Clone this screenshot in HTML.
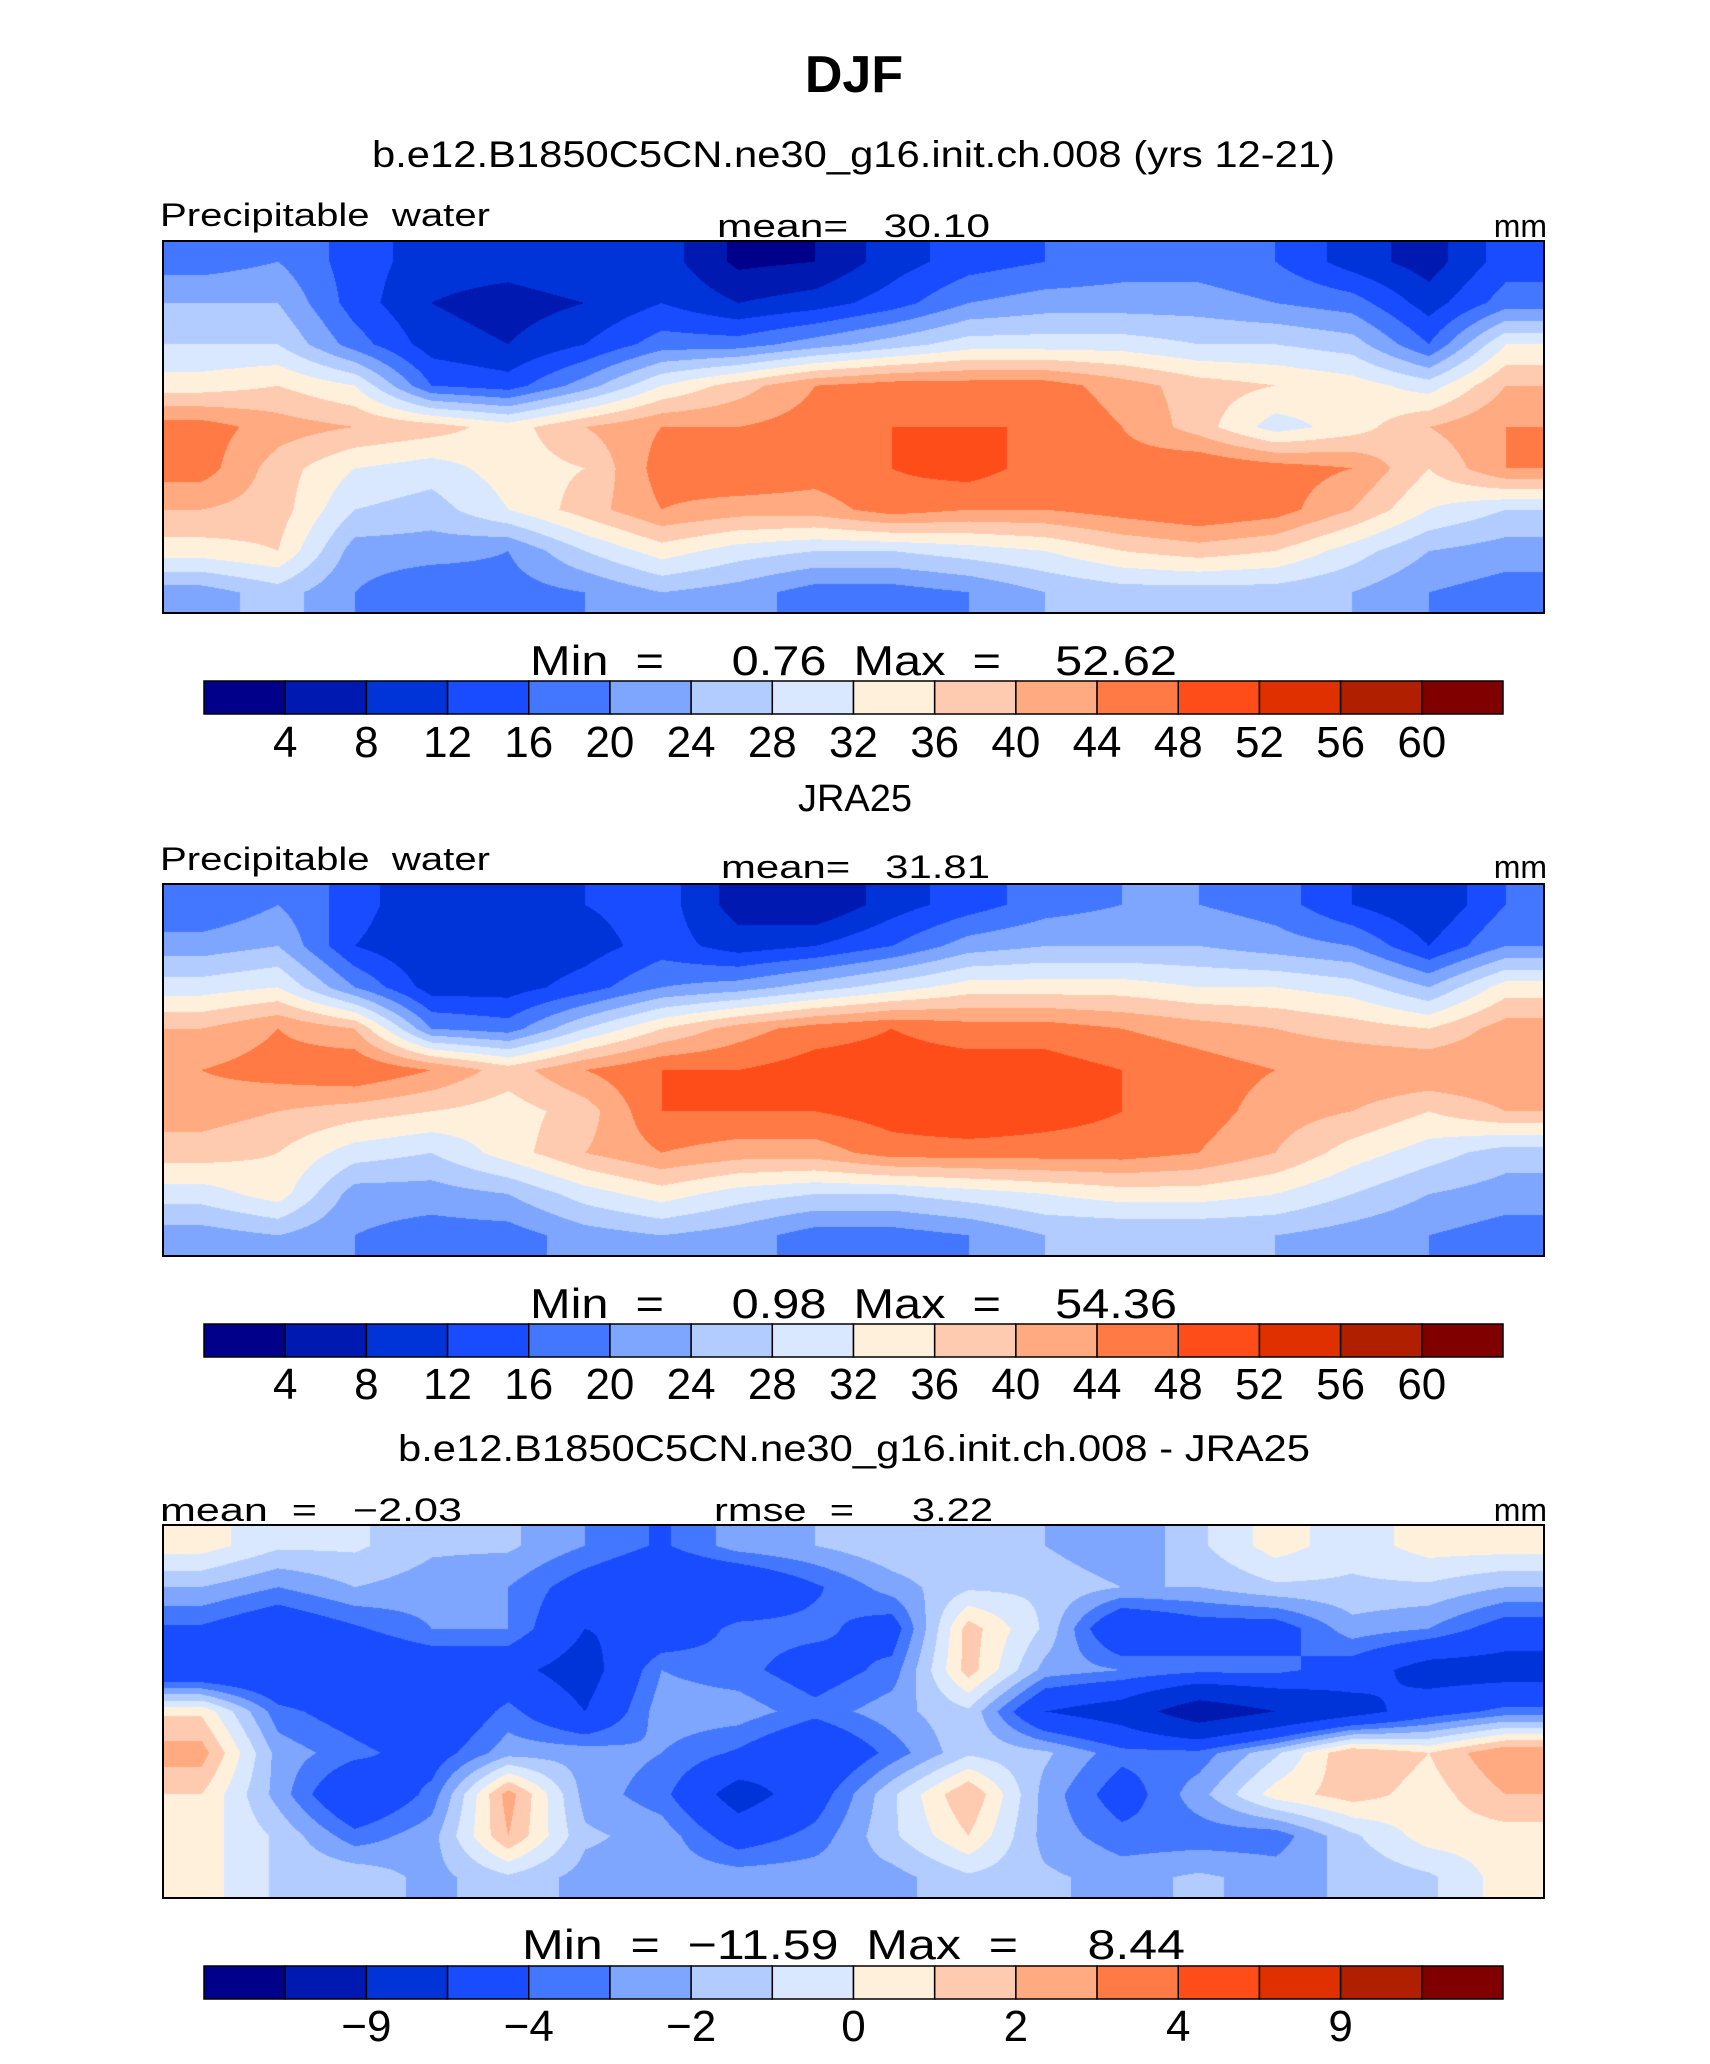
<!DOCTYPE html>
<html><head><meta charset="utf-8"><style>
html,body{margin:0;padding:0;background:#fff}
#wrap{position:relative;width:1710px;height:2064px;overflow:hidden}
svg{position:absolute;left:0;top:0}
canvas{position:absolute}
text{font-family:"Liberation Sans",sans-serif;fill:#000;white-space:pre}
</style></head><body>
<div id="wrap">
<canvas id="m1" width="1381" height="372" style="left:163px;top:241px"></canvas>
<canvas id="m2" width="1381" height="372" style="left:163px;top:884px"></canvas>
<canvas id="m3" width="1381" height="373" style="left:163px;top:1525px"></canvas>
<svg id="s" width="1710" height="2064" xml:space="preserve">
<text x="854" y="92" text-anchor="middle" font-size="52" font-weight="bold">DJF</text>
<text x="372" y="167" font-size="37" textLength="963" lengthAdjust="spacingAndGlyphs">b.e12.B1850C5CN.ne30_g16.init.ch.008 (yrs 12-21)</text>
<text x="160" y="226" font-size="32" textLength="330" lengthAdjust="spacingAndGlyphs">Precipitable  water</text>
<text x="717" y="237" font-size="32" textLength="273" lengthAdjust="spacingAndGlyphs">mean=   30.10</text>
<text x="1547" y="237" font-size="32" text-anchor="end">mm</text>
<rect x="163" y="241" width="1381" height="372" fill="none" stroke="#000" stroke-width="2"/>
<text x="530" y="675" font-size="42" textLength="647" lengthAdjust="spacingAndGlyphs">Min  =     0.76  Max  =    52.62</text>
<g id="cb1"></g>
<text x="855" y="811" text-anchor="middle" font-size="38">JRA25</text>
<text x="160" y="870" font-size="32" textLength="330" lengthAdjust="spacingAndGlyphs">Precipitable  water</text>
<text x="721" y="878" font-size="32" textLength="269" lengthAdjust="spacingAndGlyphs">mean=   31.81</text>
<text x="1547" y="878" font-size="32" text-anchor="end">mm</text>
<rect x="163" y="884" width="1381" height="372" fill="none" stroke="#000" stroke-width="2"/>
<text x="530" y="1318" font-size="42" textLength="647" lengthAdjust="spacingAndGlyphs">Min  =     0.98  Max  =    54.36</text>
<g id="cb2"></g>
<text x="398" y="1461" font-size="37" textLength="912" lengthAdjust="spacingAndGlyphs">b.e12.B1850C5CN.ne30_g16.init.ch.008 - JRA25</text>
<text x="160" y="1521" font-size="32" textLength="302" lengthAdjust="spacingAndGlyphs">mean  =   −2.03</text>
<text x="714" y="1521" font-size="32" textLength="279" lengthAdjust="spacingAndGlyphs">rmse  =     3.22</text>
<text x="1547" y="1521" font-size="32" text-anchor="end">mm</text>
<rect x="163" y="1525" width="1381" height="373" fill="none" stroke="#000" stroke-width="2"/>
<text x="522" y="1959" font-size="42" textLength="663" lengthAdjust="spacingAndGlyphs">Min  =  −11.59  Max  =     8.44</text>
<g id="cb3"></g>
</svg>
</div>
<script>
const colors = ["#00008a","#0019b0","#0033d8","#1a4cff","#4477ff","#7ea6ff","#b3ccff","#d9e8ff","#fff0dc","#ffcbb0","#ffaa80","#ff7a45","#ff4d1a","#e03000","#b02000","#800000"];
const pwLevels = [4,8,12,16,20,24,28,32,36,40,44,48,52,56,60];
const pwLabels = ["4","8","12","16","20","24","28","32","36","40","44","48","52","56","60"];
const diffLevels = [-12,-9,-6,-4,-3,-2,-1,0,1,2,3,4,6,9,12];
const diffLabels = ["","−9","","−4","","−2","","0","","2","","4","","9",""];
const modelField = [
[18,20,14,10,10,12,10,3,4,10,14,16,18,18,16,10,6,14],
[24,24,14,8,6,8,12,8,10,14,20,22,22,22,20,18,10,18],
[28,28,18,10,8,12,18,18,22,26,30,30,30,28,28,26,16,32],
[34,36,32,16,14,22,32,38,44,46,46,46,42,38,36,34,30,40],
[46,42,40,38,34,40,44,44,46,48,48,48,44,38,30,34,40,44],
[46,38,32,30,34,36,46,48,46,48,50,46,46,48,46,44,36,44],
[40,38,28,26,32,38,44,42,42,46,44,44,46,48,46,40,32,28],
[34,36,22,22,20,28,34,30,28,28,30,32,36,38,36,30,24,22],
[22,26,20,16,18,20,24,22,18,18,20,24,26,26,26,24,20,18]];
const obsField = [
[16,20,14,8,10,12,14,6,4,10,14,18,20,20,18,12,8,16],
[22,24,12,8,8,10,14,10,12,16,22,24,24,24,22,20,12,20],
[30,32,20,10,10,14,20,22,26,30,34,34,34,32,32,30,24,34],
[40,44,40,20,18,28,36,42,46,48,46,46,44,42,40,38,36,42],
[44,46,48,44,38,44,48,48,50,50,50,50,48,46,44,44,44,44],
[42,40,38,36,34,38,48,48,48,50,52,50,48,46,42,40,36,40],
[38,36,30,28,34,40,44,42,42,46,46,46,46,44,40,34,30,26],
[30,34,22,22,24,30,34,30,28,28,30,32,34,34,32,28,24,22],
[22,24,20,18,18,22,24,22,18,18,20,24,24,24,24,22,20,18]];
const diffField = [
[0.5,-0.8,-0.8,-1.8,-1.8,-3,-4.2,-2.5,-2,-1.2,-1.2,-2,-3,-1.2,0.5,-0.6,0.5,0.5],
[-2,-3,-2,-2.5,-3,-4.8,-6,-6,-4.2,-2.5,-1.2,-1.2,-2,-2,-1.2,-1.2,-1.2,-2],
[-4.2,-5.4,-4.2,-3,-3,-6,-5.4,-3.6,-3.6,-4.8,1.5,-1.2,-6,-4.8,-4.8,-2.4,-3,-4.8],
[-6,-6,-6,-5.4,-5.4,-7,-3,-3.6,-4.8,-3.6,1.5,-2.4,-3,-3.6,-3.6,-4.8,-7,-7],
[0.8,-3.6,-4.8,-6,-3.6,-6,-2.4,-2.4,-3.6,-2.4,-1.2,-6,-7.2,-11,-9,-7,-4.8,-3.6],
[2.5,-2.4,-3.6,-4.8,-2.4,-2.4,-3,-4.2,-6,-3.6,-1.2,-1.8,-3.6,-3.6,-1.2,2,1,3],
[1,-2.4,-6,-3.6,2.5,-2.4,-3.6,-7,-4.8,-1.2,2,-2.4,-4.8,-2.4,0.5,1.5,0.5,2],
[0.5,-1.2,-3.6,-2.4,2,-1.8,-2.4,-4.8,-3.6,-1.2,1,-2.4,-3.6,-3.6,-3.6,-1.2,0.5,0.5],
[0.5,-1.2,-1.2,-2.4,-1.2,-2.4,-2.4,-2.4,-2.4,-2.4,-1.2,-1.8,-2.4,-1.8,-2.4,-1.8,-1.2,0.5]];

function hex(c){return [parseInt(c.substr(1,2),16),parseInt(c.substr(3,2),16),parseInt(c.substr(5,2),16)];}
const rgb = colors.map(hex);
function levelIndex(v,lv){let i=0;while(i<lv.length&&v>=lv[i])i++;return i;}
function drawMap(id,field,lv){
  const cv=document.getElementById(id),ctx=cv.getContext('2d');
  const W=cv.width,H=cv.height,R=field.length,C=field[0].length;
  const img=ctx.createImageData(W,H);
  for(let y=0;y<H;y++){
    let gy=Math.min(Math.max((y+0.5)/H*R-0.5,0),R-1);
    const y0=Math.min(Math.floor(gy),R-2),ty=gy-y0;
    for(let x=0;x<W;x++){
      let gx=Math.min(Math.max((x+0.5)/W*C-0.5,0),C-1);
      const x0=Math.min(Math.floor(gx),C-2),tx=gx-x0;
      const a=field[y0][x0],b=field[y0][x0+1],c=field[y0+1][x0],d=field[y0+1][x0+1];
      const v=(a*(1-tx)+b*tx)*(1-ty)+(c*(1-tx)+d*tx)*ty;
      const col=rgb[levelIndex(v,lv)];
      const k=(y*W+x)*4;
      img.data[k]=col[0];img.data[k+1]=col[1];img.data[k+2]=col[2];img.data[k+3]=255;
    }
  }
  ctx.putImageData(img,0,0);
}
drawMap('m1',modelField,pwLevels);
drawMap('m2',obsField,pwLevels);
drawMap('m3',diffField,diffLevels);

const NS="http://www.w3.org/2000/svg";
function colorbar(gid,y,h,labels,ly){
  const g=document.getElementById(gid);
  const x0=204,w=1299,bw=w/colors.length;
  colors.forEach((c,i)=>{
    const r=document.createElementNS(NS,'rect');
    r.setAttribute('x',x0+i*bw);r.setAttribute('y',y);
    r.setAttribute('width',bw);r.setAttribute('height',h);
    r.setAttribute('fill',c);r.setAttribute('stroke','#000');r.setAttribute('stroke-width','1.5');
    
    
    g.appendChild(r);
  });
  labels.forEach((l,i)=>{
    if(!l)return;
    const t=document.createElementNS(NS,'text');
    t.setAttribute('x',x0+(i+1)*bw);t.setAttribute('y',ly);
    t.setAttribute('text-anchor','middle');t.setAttribute('font-size','44');
    t.textContent=l;
    
    
    g.appendChild(t);
  });
}
colorbar('cb1',681,33,pwLabels,757);
colorbar('cb2',1324,33,pwLabels,1399);
colorbar('cb3',1966,33,diffLabels,2041);
</script>
</body></html>
